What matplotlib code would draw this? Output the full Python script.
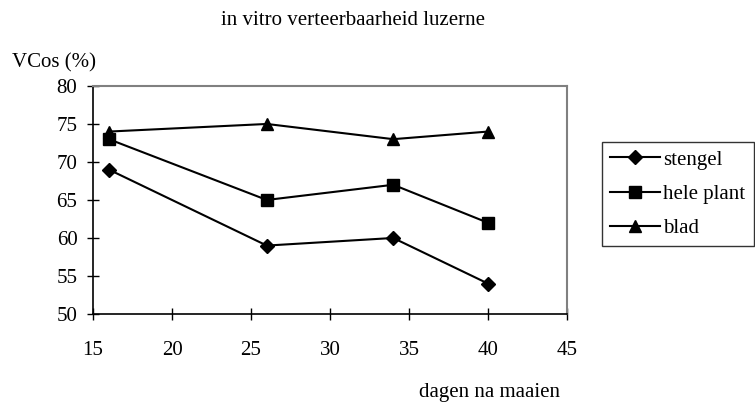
import matplotlib.pyplot as plt

plt.rcParams['font.family'] = ['Liberation Serif', 'DejaVu Serif']

dagen = [16, 26, 34, 40]
stengel = [69, 59, 60, 54]
hele_plant = [73, 65, 67, 62]
blad = [74, 75, 73, 74]

fig = plt.figure(figsize=(7.55, 4.03), dpi=100)
ax = fig.add_axes([0.1232, 0.2209, 0.6278, 0.5658])

ax.plot(dagen, stengel, color='black', lw=1.5, marker='D', markersize=7, label='stengel')
ax.plot(dagen, hele_plant, color='black', lw=1.5, marker='s', markersize=9, label='hele plant')
ax.plot(dagen, blad, color='black', lw=1.5, marker='^', markersize=9, label='blad')

ax.set_xlim(15, 45)
ax.set_ylim(50, 80)
ax.set_xticks(range(15, 46, 5))
ax.set_yticks(range(50, 81, 5))
ax.tick_params(direction='inout', length=8.5, width=1, labelsize=15)
ax.tick_params(axis='x', pad=15)
ax.tick_params(axis='y', pad=7)
ax.spines['top'].set_color('#808080')
ax.spines['right'].set_color('#808080')
ax.spines['top'].set_linewidth(1.5)
ax.spines['right'].set_linewidth(1.5)
ax.spines['left'].set_linewidth(1.2)
ax.spines['bottom'].set_linewidth(1.2)

fig.text(0.467, 0.948, 'in vitro verteerbaarheid luzerne', ha='center', va='center', fontsize=15)
fig.text(0.016, 0.843, 'VCos (%)', ha='left', va='center', fontsize=15)
fig.text(0.649, 0.025, 'dagen na maaien', ha='center', va='center', fontsize=15)

leg = fig.legend(loc='upper left', bbox_to_anchor=(0.797, 0.648), frameon=True, fancybox=False,
                 edgecolor='black', fontsize=15, handlelength=2.4, handletextpad=0.15,
                 labelspacing=0.7, borderpad=0.4, borderaxespad=0)
leg.get_frame().set_linewidth(1)

fig.savefig('out.png', dpi=100)
